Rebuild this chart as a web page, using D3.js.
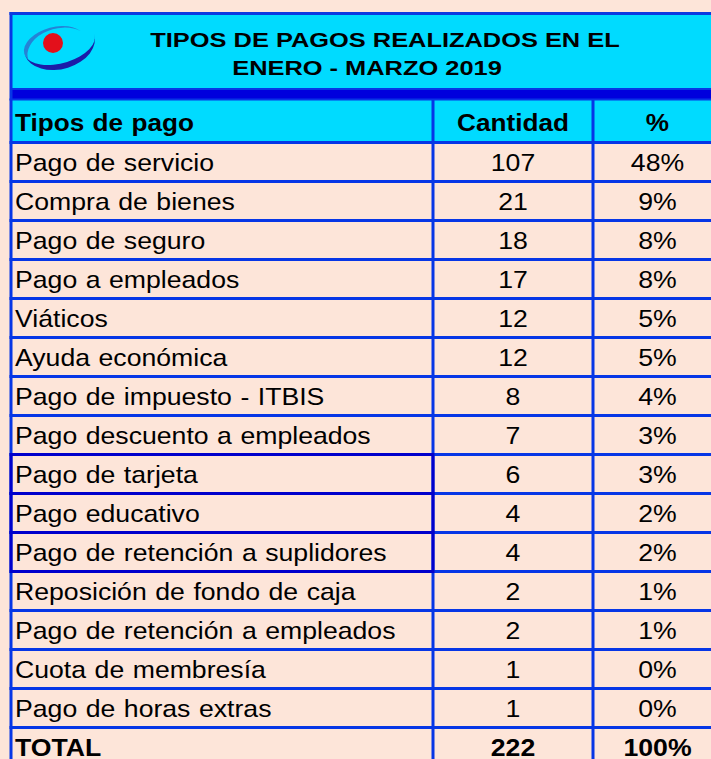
<!DOCTYPE html>
<html>
<head>
<meta charset="utf-8">
<script src="https://cdn.jsdelivr.net/npm/d3@7"></script>
<style>
	html, body { margin: 0; padding: 0; background: #fde5d9; overflow: hidden; }
	svg { display: block; font-family: 'Liberation Sans', Arial, sans-serif; }
	.cell { font-size: 24px; word-spacing: 1px; fill: #000; }
	.bold { font-weight: bold; }
	.title { font-size: 21px; font-weight: bold; }
</style>
</head>
<body>
<div id="table"></div>
<script>
// data
const tiposPago = ['Pago de servicio', 'Compra de bienes', 'Pago de seguro', 'Pago a empleados',
	'Viáticos', 'Ayuda económica', 'Pago de impuesto - ITBIS', 'Pago descuento a empleados',
	'Pago de tarjeta', 'Pago educativo', 'Pago de retención a suplidores',
	'Reposición de fondo de caja', 'Pago de retención a empleados', 'Cuota de membresía',
	'Pago de horas extras'];
const cantidad = [107, 21, 18, 17, 12, 12, 8, 7, 6, 4, 4, 2, 2, 1, 1];
const porcentaje = ['48%', '9%', '8%', '8%', '5%', '5%', '4%', '3%', '3%', '2%', '2%', '1%', '1%', '0%', '0%'];
const headers = ['Tipos de pago', 'Cantidad', '%'];
const total = ['TOTAL', '222', '100%'];
const titleLines = ['TIPOS DE PAGOS REALIZADOS EN EL', 'ENERO - MARZO 2019'];

// colours
const PEACH = '#fde5d9';
const CYAN = '#00dbff';
const BLUE = '#0636e6';
const NAVY = '#0000cc';
const darkRows = [8, 9, 10]; // rows whose first cell has the darker border

const width = 711, height = 759;
const ROW_H = 39;
const TOP = 142.5;
const STRETCH = 1.11; // excel renders text a bit wide

const svg = d3.select('#table').append('svg')
	.attr('width', width)
	.attr('height', height);

svg.append('rect')
	.attr('width', width).attr('height', height)
	.attr('fill', PEACH);

// column edges (left border, two dividers, right border off-canvas)
const colEdges = [11, 433, 593, 722];
const colCenter = i => (colEdges[i] + colEdges[i + 1]) / 2;

const rows = tiposPago.map((t, i) => [t, String(cantidad[i]), porcentaje[i]]);
rows.push(total);

const y = d3.scaleBand()
	.domain(d3.range(rows.length))
	.range([TOP, TOP + rows.length * ROW_H])
	.padding(0);

// title block
svg.append('rect')
	.attr('x', colEdges[0]).attr('y', 13.5)
	.attr('width', width).attr('height', 75)
	.attr('fill', CYAN);
svg.append('rect')
	.attr('x', colEdges[0]).attr('y', 88)
	.attr('width', width).attr('height', 12)
	.attr('fill', '#0000dd');
svg.append('line')
	.attr('x1', colEdges[0]).attr('x2', width)
	.attr('y1', 89).attr('y2', 89)
	.attr('stroke', BLUE).attr('stroke-width', 2);

const titleX = [385, 367];
svg.selectAll('.title')
	.data(titleLines)
	.enter().append('text')
		.attr('class', 'title')
		.attr('transform', (d, i) => `translate(${titleX[i]},${47 + i * 28}) scale(1.21,1)`)
		.attr('text-anchor', 'middle')
		.text(d => d);

// logo: two swooshes round a red dot
const logo = svg.append('g').attr('transform', 'translate(57,47) rotate(-15)');
logo.append('path')
	.attr('d', 'M-31,5 A32,22 0 0,1 27,-9 A29,17 0 0,0 -31,5 Z')
	.attr('fill', '#2483d6');
logo.append('path')
	.attr('d', 'M-33,0 A34,23 0 0,0 39,-3 A31,16 0 0,1 -33,0 Z')
	.attr('fill', '#1c1ca8');
svg.append('circle')
	.attr('cx', 53).attr('cy', 43).attr('r', 10)
	.attr('fill', '#e3101b');

// header row
svg.append('rect')
	.attr('x', colEdges[0]).attr('y', 100)
	.attr('width', width).attr('height', TOP - 100)
	.attr('fill', CYAN);

const cellX = i => i === 0 ? 15 : colCenter(i);
const anchor = i => i === 0 ? 'start' : 'middle';

svg.selectAll('.header')
	.data(headers)
	.enter().append('text')
		.attr('class', 'cell bold header')
		.attr('transform', (d, i) => `translate(${cellX(i)},123) scale(${STRETCH - 0.02},1)`)
		.attr('dy', '0.35em')
		.attr('text-anchor', (d, i) => anchor(i))
		.text(d => d);

// grid lines
const grid = svg.append('g').attr('class', 'grid');
grid.selectAll('.hline')
	.data(d3.range(rows.length + 1))
	.enter().append('line')
		.attr('x1', colEdges[0] - 1.5).attr('x2', width)
		.attr('y1', d => d < rows.length ? y(d) : y(rows.length - 1) + ROW_H)
		.attr('y2', d => d < rows.length ? y(d) : y(rows.length - 1) + ROW_H)
		.attr('stroke', BLUE).attr('stroke-width', 3);

grid.append('line')
	.attr('x1', colEdges[0] - 1.5).attr('x2', width)
	.attr('y1', 99.5).attr('y2', 99.5)
	.attr('stroke', BLUE).attr('stroke-width', 2);

// verticals: header row and body
grid.selectAll('.vline')
	.data(colEdges.slice(0, 3))
	.enter().append('line')
		.attr('x1', d => d).attr('x2', d => d)
		.attr('y1', (d, i) => i === 0 ? 12 : 99)
		.attr('y2', height)
		.attr('stroke', BLUE).attr('stroke-width', 3);

// outer top border
grid.append('line')
	.attr('x1', colEdges[0] - 1.5).attr('x2', width)
	.attr('y1', 13.5).attr('y2', 13.5)
	.attr('stroke', '#0a3ae0').attr('stroke-width', 3);

// darker first-column borders
grid.selectAll('.dark')
	.data(darkRows)
	.enter().append('rect')
		.attr('x', colEdges[0]).attr('y', d => y(d))
		.attr('width', colEdges[1] - colEdges[0]).attr('height', ROW_H)
		.attr('fill', 'none')
		.attr('stroke', NAVY).attr('stroke-width', 3);

// body text
const body = svg.append('g').attr('class', 'body');
rows.forEach((r, ri) => {
	body.selectAll(`.r${ri}`)
		.data(r)
		.enter().append('text')
			.attr('class', ri === rows.length - 1 ? 'cell bold' : 'cell')
			.attr('transform', (d, i) => `translate(${cellX(i)},${y(ri) + ROW_H / 2 + 1}) scale(${STRETCH},1)`)
			.attr('dy', '0.35em')
			.attr('text-anchor', (d, i) => anchor(i))
			.text(d => d);
});
</script>
</body>
</html>
